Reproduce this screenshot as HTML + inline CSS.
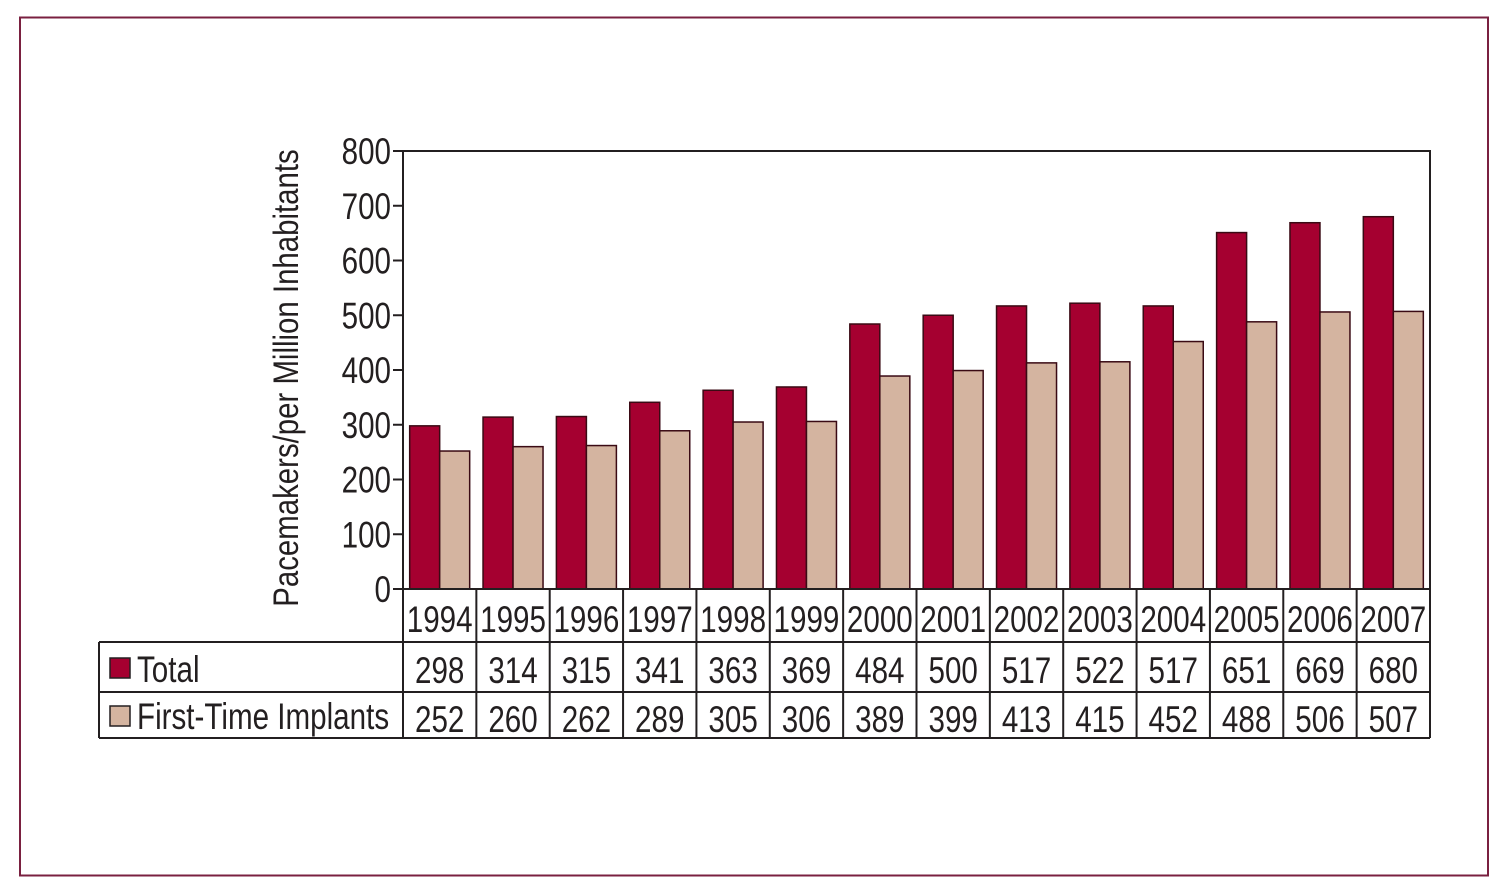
<!DOCTYPE html>
<html><head><meta charset="utf-8"><style>
html,body{margin:0;padding:0;background:#fff;width:1504px;height:895px;overflow:hidden}
svg text{font-family:"Liberation Sans Narrow","Liberation Sans",sans-serif;fill:#231f20}
</style></head><body>
<svg id="c" width="1504" height="895">
<rect x="20" y="17.5" width="1468" height="858" fill="none" stroke="#7a2040" stroke-width="2"/>
<g id="bars"></g>
<g id="axis"></g>
<g id="table"></g>
<text transform="translate(298,378) rotate(-90) scale(0.84,1)" text-anchor="middle" font-size="35">Pacemakers/per Million Inhabitants</text>
</svg>
<script>
const years=["1994","1995","1996","1997","1998","1999","2000","2001","2002","2003","2004","2005","2006","2007"];
const totalVals=[298,314,315,341,363,369,484,500,517,522,517,651,669,680];
const firstVals=[252,260,262,289,305,306,389,399,413,415,452,488,506,507];
const yTicks=[0,100,200,300,400,500,600,700,800];
const NS="http://www.w3.org/2000/svg";
const L=403,R=1430,T=151,B=589,MAX=800;
const band=(R-L)/years.length;
const y=v=>B-(v/MAX)*(B-T);
const xb=i=>L+i*band;
const SX=0.8;
const FS=37;
function mk(tag,attrs,parent,text){const e=document.createElementNS(NS,tag);for(const k in attrs)e.setAttribute(k,attrs[k]);if(text!==undefined)e.textContent=text;parent.appendChild(e);return e;}
function txt(x,yy,anchor,size,parent,s){return mk('text',{transform:`translate(${x},${yy}) scale(${SX},1)`,'text-anchor':anchor,'font-size':size},parent,s);}
const bars=document.getElementById('bars'),axis=document.getElementById('axis'),table=document.getElementById('table');
years.forEach((yr,i)=>{
  const x0=xb(i)+(band-60)/2;
  const r=mk('rect',{x:x0,y:y(totalVals[i]),width:30,height:B-y(totalVals[i]),fill:'#a50030',stroke:'#3a0a14','stroke-width':1.5},bars);
  
  
  const f=mk('rect',{x:x0+30,y:y(firstVals[i]),width:30,height:B-y(firstVals[i]),fill:'#d4b4a0',stroke:'#3a0a14','stroke-width':1.5},bars);
  
  
});
mk('polyline',{points:`${L},${T} ${R},${T} ${R},${B}`,fill:'none',stroke:'#231f20','stroke-width':2},axis);
mk('line',{x1:L,y1:T,x2:L,y2:738,stroke:'#231f20','stroke-width':2},axis);
yTicks.forEach(t=>{
  mk('line',{x1:L-10,y1:y(t),x2:L,y2:y(t),stroke:'#231f20','stroke-width':2},axis);
  const tx=txt(L-12,y(t)+13,'end',FS,axis,String(t));
  
  
});
mk('line',{x1:99,y1:642,x2:R,y2:642,stroke:'#231f20','stroke-width':2},table);
mk('line',{x1:L,y1:B,x2:R,y2:B,stroke:'#231f20','stroke-width':2},table);
mk('line',{x1:99,y1:692,x2:R,y2:692,stroke:'#231f20','stroke-width':2},table);
mk('line',{x1:99,y1:738,x2:R,y2:738,stroke:'#231f20','stroke-width':2},table);
mk('line',{x1:99,y1:642,x2:99,y2:738,stroke:'#231f20','stroke-width':2},table);
for(let i=1;i<=years.length;i++){mk('line',{x1:xb(i),y1:B,x2:xb(i),y2:738,stroke:'#231f20','stroke-width':2},table);}
years.forEach((yr,i)=>{
  const cx=xb(i)+band/2;
  const a=txt(cx,632,'middle',FS,table,yr);
  
  
  const b=txt(cx,683,'middle',FS,table,String(totalVals[i]));
  
  
  const c=txt(cx,732,'middle',FS,table,String(firstVals[i]));
  
  
});
const s1=mk('rect',{x:110,y:658,width:20,height:20,fill:'#a50030',stroke:'#231f20','stroke-width':1.5},table);


const l1=txt(137,682,'start',FS,table,'Total');


const s2=mk('rect',{x:110,y:706,width:20,height:20,fill:'#d4b4a0',stroke:'#231f20','stroke-width':1.5},table);


const l2=txt(137,729,'start',FS,table,'First-Time Implants');


</script>
</body></html>
